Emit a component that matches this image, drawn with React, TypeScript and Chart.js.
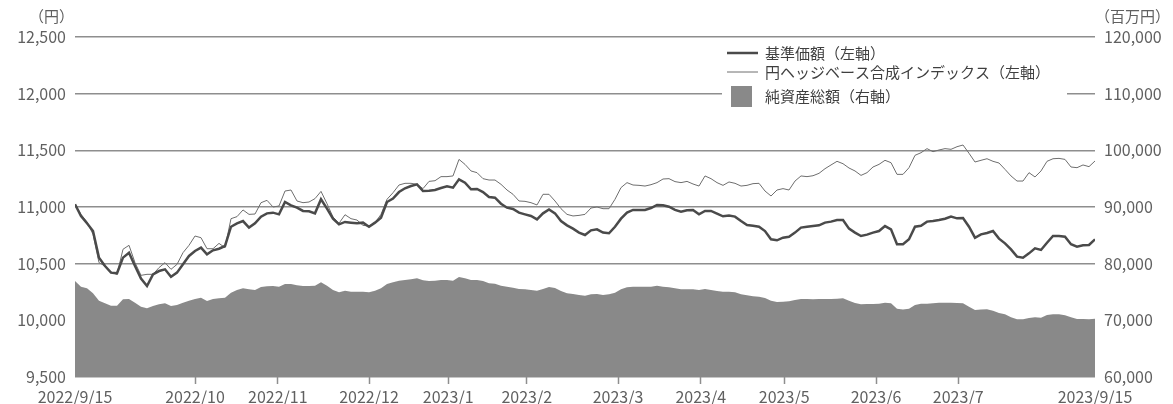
import { useEffect, useRef } from "react";
import { Chart, registerables } from "chart.js";

Chart.register(...registerables);

// 基準価額（円）
const navYen = [
  11024, 10921, 10856, 10788, 10553, 10479, 10421, 10415, 10553, 10597,
  10479, 10368, 10303, 10406, 10435, 10450, 10385, 10421, 10494, 10568,
  10612, 10641, 10582, 10618, 10632, 10656, 10826, 10856, 10876, 10818,
  10856, 10915, 10944, 10950, 10935, 11044, 11015, 10994, 10965, 10962,
  10944, 11068, 10985, 10897, 10847, 10868, 10862, 10856, 10862, 10826,
  10862, 10906, 11044, 11074, 11132, 11165, 11185, 11200, 11141, 11144,
  11150, 11168, 11182, 11171, 11244, 11215, 11156, 11159, 11132, 11088,
  11082, 11029, 10994, 10982, 10950, 10935, 10921, 10891, 10944, 10979,
  10944, 10876, 10838, 10809, 10774, 10753, 10794, 10803, 10774, 10768,
  10826, 10897, 10950, 10974, 10974, 10974, 10991, 11018, 11015, 11003,
  10974, 10959, 10971, 10974, 10935, 10965, 10965, 10941, 10918, 10924,
  10915, 10876, 10841, 10835, 10826, 10788, 10715, 10706, 10729, 10738,
  10774, 10818, 10826, 10832, 10838, 10862, 10871, 10885, 10885, 10809,
  10774, 10744, 10756, 10774, 10788, 10832, 10803, 10671, 10671, 10715,
  10826, 10835, 10871, 10876, 10885, 10897, 10915, 10900, 10903, 10826,
  10729, 10759, 10771, 10788, 10721, 10679, 10626, 10562, 10553, 10591,
  10635, 10621, 10685, 10744, 10744, 10738, 10671, 10650, 10662, 10665,
  10715,
];

// 円ヘッジベース合成インデックス（円換算）
const indexYen = [
  11024, 10935, 10868, 10759, 10509, 10479, 10426, 10406, 10627, 10662,
  10509, 10397, 10406, 10406, 10465, 10509, 10450, 10494, 10597, 10662,
  10744, 10729, 10632, 10632, 10679, 10641, 10897, 10915, 10974, 10935,
  10938, 11038, 11059, 11000, 11009, 11141, 11150, 11053, 11038, 11044,
  11074, 11138, 11029, 10912, 10856, 10932, 10897, 10885, 10838, 10832,
  10862, 10935, 11068, 11126, 11194, 11209, 11209, 11200, 11162, 11226,
  11232, 11268, 11268, 11274, 11420, 11376, 11318, 11303, 11250, 11238,
  11238, 11200, 11150, 11112, 11053, 11050, 11038, 11018, 11112, 11112,
  11053, 10985, 10935, 10921, 10926, 10935, 10991, 11000, 10985, 10985,
  11068, 11171, 11215, 11194, 11191, 11185, 11197, 11215, 11247, 11250,
  11224, 11215, 11226, 11203, 11185, 11274, 11250, 11215, 11191, 11221,
  11209, 11185, 11191, 11206, 11209, 11141, 11097, 11150, 11162, 11150,
  11229, 11274, 11268, 11276, 11297, 11338, 11371, 11403, 11382, 11344,
  11318, 11279, 11303, 11353, 11376, 11412, 11391, 11288, 11288, 11347,
  11456, 11479, 11515, 11488, 11503, 11515, 11509, 11532, 11547, 11474,
  11397, 11412, 11426, 11403, 11388, 11332, 11274, 11229, 11229, 11303,
  11265, 11318, 11403, 11426, 11429, 11420, 11353, 11347, 11371, 11356,
  11406,
];

// 純資産総額（百万円）
const netAssetsMil = [
  76940, 75940, 75660, 74770, 73470, 73010, 72580, 72580, 73710, 73770,
  73110, 72410, 72130, 72530, 72830, 73010, 72530, 72710, 73110, 73470,
  73770, 74000, 73410, 73770, 73890, 74000, 74880, 75360, 75660, 75480,
  75360, 75890, 76000, 76060, 75940, 76420, 76420, 76180, 76060, 76060,
  76120, 76710, 76120, 75360, 74940, 75240, 75060, 75060, 75060, 74940,
  75240, 75660, 76420, 76710, 77000, 77120, 77240, 77420, 77060, 76940,
  77000, 77120, 77120, 77000, 77650, 77420, 77120, 77120, 76940, 76530,
  76470, 76120, 75940, 75770, 75530, 75470, 75360, 75240, 75530, 75890,
  75710, 75180, 74770, 74660, 74470, 74360, 74590, 74660, 74470, 74590,
  74880, 75470, 75830, 75940, 75940, 75940, 75940, 76120, 75940, 75830,
  75660, 75470, 75470, 75470, 75360, 75530, 75360, 75180, 75060, 75060,
  74940, 74590, 74410, 74250, 74150, 73940, 73470, 73240, 73300, 73360,
  73590, 73770, 73770, 73710, 73770, 73770, 73770, 73830, 73890, 73470,
  73060, 72830, 72890, 72890, 72940, 73120, 73000, 72060, 71890, 72060,
  72710, 72940, 72940, 73000, 73120, 73120, 73120, 73060, 73000, 72410,
  71830, 71890, 71940, 71710, 71300, 71060, 70530, 70180, 70180, 70410,
  70530, 70470, 70940, 71060, 71060, 70890, 70530, 70240, 70240, 70180,
  70300,
];

// 日付目盛り（データ番号上の位置とラベル）
const dateTickAt = [0, 20, 33.8, 49, 62.2, 75.3, 90.5, 104.3, 118.2, 133.5, 147.2, 170];
const dateTickLabels = [
  "2022/9/15", "2022/10", "2022/11", "2022/12", "2023/1", "2023/2",
  "2023/3", "2023/4", "2023/5", "2023/6", "2023/7", "2023/9/15",
];

const seriesLabels = [
  "基準価額（左軸）",
  "円ヘッジベース合成インデックス（左軸）",
  "純資産総額（右軸）",
];

const leftUnit = "（円）";
const rightUnit = "（百万円）";

const FONT = '"Noto Sans CJK JP", "Noto Sans", sans-serif';
const TEXT = "#606060";
const GRID = "#8e8e8e";
const NAV_COLOR = "#4a4a4a";
const INDEX_COLOR = "#6e6e6e";
const AREA_COLOR = "#898989";

const toPoints = (arr: number[]) => arr.map((v, i) => ({ x: i, y: v }));

// 右上の凡例（白地で罫線を覆う）
const legendBoxPlugin = {
  id: "legendBox",
  afterDraw(chart: any) {
    const { ctx, chartArea } = chart;
    const ds = chart.data.datasets;
    const boxRight = chartArea.right - 28;
    const boxLeft = boxRight - 345;
    ctx.save();
    ctx.fillStyle = "#ffffff";
    ctx.fillRect(boxLeft, chartArea.top + 3, boxRight - boxLeft, 71);
    const rows = [chartArea.top + 16, chartArea.top + 35, chartArea.top + 59.5];
    const iconX = boxLeft + 5;
    const textX = boxLeft + 43;
    ctx.font = `15px ${FONT}`;
    ctx.textBaseline = "middle";
    ctx.textAlign = "left";
    ds.forEach((d: any, i: number) => {
      const y = rows[i];
      if (d.fill) {
        ctx.fillStyle = d.backgroundColor;
        ctx.fillRect(iconX + 4, y - 10.5, 21, 21);
      } else {
        ctx.strokeStyle = d.borderColor;
        ctx.lineWidth = d.borderWidth;
        ctx.beginPath();
        ctx.moveTo(iconX, y);
        ctx.lineTo(iconX + 31, y);
        ctx.stroke();
      }
      ctx.fillStyle = "#3f3f3f";
      ctx.fillText(d.label, textX, y);
    });
    ctx.restore();
  },
};

// 軸の単位表示
const unitPlugin = {
  id: "units",
  afterDraw(chart: any) {
    const { ctx } = chart;
    const yl = chart.scales.y;
    const yr = chart.scales.y1;
    ctx.save();
    ctx.font = `15px ${FONT}`;
    ctx.fillStyle = TEXT;
    ctx.textBaseline = "middle";
    ctx.textAlign = "right";
    ctx.fillText(leftUnit, yl.right - 1, 16);
    ctx.textAlign = "left";
    ctx.fillText(rightUnit, yr.left, 16);
    ctx.restore();
  },
};

export default function App() {
  const canvasRef = useRef<HTMLCanvasElement | null>(null);

  useEffect(() => {
    const canvas = canvasRef.current;
    if (!canvas) return;
    const last = navYen.length - 1;

    const chart = new Chart(canvas, {
      type: "line",
      data: {
        datasets: [
          {
            label: seriesLabels[0],
            data: toPoints(navYen),
            yAxisID: "y",
            borderColor: NAV_COLOR,
            borderWidth: 2.5,
            pointRadius: 0,
            tension: 0,
            fill: false,
          },
          {
            label: seriesLabels[1],
            data: toPoints(indexYen),
            yAxisID: "y",
            borderColor: INDEX_COLOR,
            borderWidth: 1,
            pointRadius: 0,
            tension: 0,
            fill: false,
          },
          {
            label: seriesLabels[2],
            data: toPoints(netAssetsMil),
            yAxisID: "y1",
            borderColor: AREA_COLOR,
            backgroundColor: AREA_COLOR,
            borderWidth: 0,
            pointRadius: 0,
            tension: 0,
            fill: "start",
          },
        ],
      },
      options: {
        responsive: false,
        animation: false,
        events: [],
        layout: { padding: { top: 37, left: 0, right: 0, bottom: 0 } },
        plugins: {
          legend: { display: false },
          tooltip: { enabled: false },
        },
        scales: {
          x: {
            type: "linear",
            min: 0,
            max: last,
            afterBuildTicks: (s: any) => {
              s.ticks = dateTickAt.map((v) => ({ value: v }));
            },
            afterFit: (s: any) => {
              s.height = 27;
            },
            ticks: {
              autoSkip: false,
              maxRotation: 0,
              minRotation: 0,
              padding: 3,
              color: TEXT,
              font: { family: FONT, size: 16 },
              callback: (_v: any, i: number) => dateTickLabels[i],
            },
            grid: {
              drawOnChartArea: false,
              drawTicks: true,
              tickLength: 7,
              tickWidth: 1.5,
              tickColor: (c: any) =>
                c.index === 0 || c.index === dateTickAt.length - 1 ? "rgba(0,0,0,0)" : GRID,
            },
            border: { display: false },
          },
          y: {
            position: "left",
            min: 9500,
            max: 12500,
            afterFit: (s: any) => {
              s.width = 75;
            },
            ticks: {
              stepSize: 500,
              padding: 9,
              color: TEXT,
              font: { family: FONT, size: 16 },
              callback: (v: any) => Number(v).toLocaleString("en-US"),
            },
            grid: { color: GRID, lineWidth: 1.5, drawTicks: false },
            border: { display: false },
          },
          y1: {
            position: "right",
            min: 60000,
            max: 120000,
            afterFit: (s: any) => {
              s.width = 78;
            },
            ticks: {
              stepSize: 10000,
              padding: 9,
              color: TEXT,
              font: { family: FONT, size: 16 },
              callback: (v: any) => Number(v).toLocaleString("en-US"),
            },
            grid: { display: false, drawTicks: false },
            border: { display: false },
          },
        },
      },
      plugins: [legendBoxPlugin, unitPlugin],
    } as any);

    return () => chart.destroy();
  }, []);

  return (
    <div style={{ position: "fixed", left: 0, top: 0, width: 1173, height: 404, background: "#fff" }}>
      <canvas ref={canvasRef} width={1173} height={404} />
    </div>
  );
}
